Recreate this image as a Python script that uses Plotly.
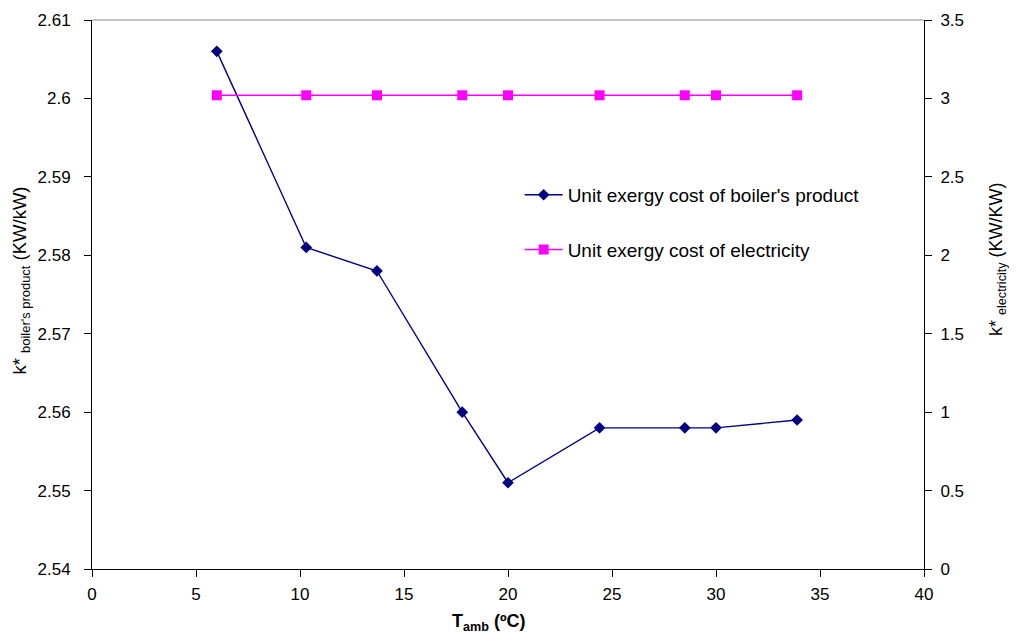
import plotly.graph_objects as go

t_amb = [6, 10.3, 13.7, 17.8, 20, 24.4, 28.5, 30, 33.9]
k_boiler = [2.606, 2.581, 2.578, 2.560, 2.551, 2.558, 2.558, 2.558, 2.559]
k_elec = [3.02, 3.02, 3.02, 3.02, 3.02, 3.02, 3.02, 3.02, 3.02]

FONT = "Liberation Sans, Arial, sans-serif"

fig = go.Figure()
fig.add_trace(go.Scatter(
    x=t_amb, y=k_boiler, mode="lines+markers",
    name="Unit exergy cost of boiler's product",
    line=dict(color="#000080", width=1.4),
    marker=dict(symbol="diamond", size=9, color="#000080"),
    legendgroup="a", yaxis="y"))
fig.add_trace(go.Scatter(
    x=t_amb, y=k_elec, mode="lines+markers",
    name="Unit exergy cost of electricity",
    line=dict(color="#FF00FF", width=1.4),
    marker=dict(symbol="square", size=10, color="#FF00FF"),
    legendgroup="b", yaxis="y2"))

axis_common = dict(showgrid=False, zeroline=False, showline=True,
                   linecolor="black", linewidth=1, ticks="outside",
                   ticklen=7, tickcolor="black", automargin=False,
                   tickfont=dict(size=17))

fig.update_layout(
    width=1009, height=632,
    margin=dict(l=84, r=93, t=12, b=71),
    plot_bgcolor="white", paper_bgcolor="white",
    font=dict(family=FONT, size=17, color="black"),
    showlegend=True,
    legend=dict(x=0.514, y=0.716, xanchor="left", yanchor="top",
                bgcolor="rgba(0,0,0,0)", tracegroupgap=27, itemwidth=38,
                font=dict(size=19, family=FONT)),
    xaxis=dict(range=[0, 40], dtick=5, ticklabelstandoff=3, **axis_common),
    yaxis=dict(range=[2.54, 2.61], dtick=0.01, tickformat="~g",
               ticklabelstandoff=10, **axis_common),
    yaxis2=dict(range=[0, 3.5], dtick=0.5, overlaying="y", side="right",
                tickformat="~g", ticklabelstandoff=5, **axis_common),
    shapes=[dict(type="line", xref="paper", yref="paper", x0=0, x1=1, y0=1, y1=1,
                 line=dict(color="#888888", width=1))],
    annotations=[
        dict(text="<b>T<sub>amb</sub> (ºC)</b>", xref="paper", yref="paper",
             x=0.477, y=-0.098, xanchor="center", yanchor="middle",
             showarrow=False, font=dict(size=18)),
        dict(text="k* <sub>boiler's product</sub> (KW/kW)", xref="paper", yref="paper",
             x=-0.085, y=0.526, xanchor="center", yanchor="middle", textangle=-90,
             showarrow=False, font=dict(size=18.5)),
        dict(text="k* <sub>electricity</sub> (KW/KW)", xref="paper", yref="paper",
             x=1.089, y=0.563, xanchor="center", yanchor="middle", textangle=-90,
             showarrow=False, font=dict(size=18)),
    ],
)

fig.write_html("out.html")
